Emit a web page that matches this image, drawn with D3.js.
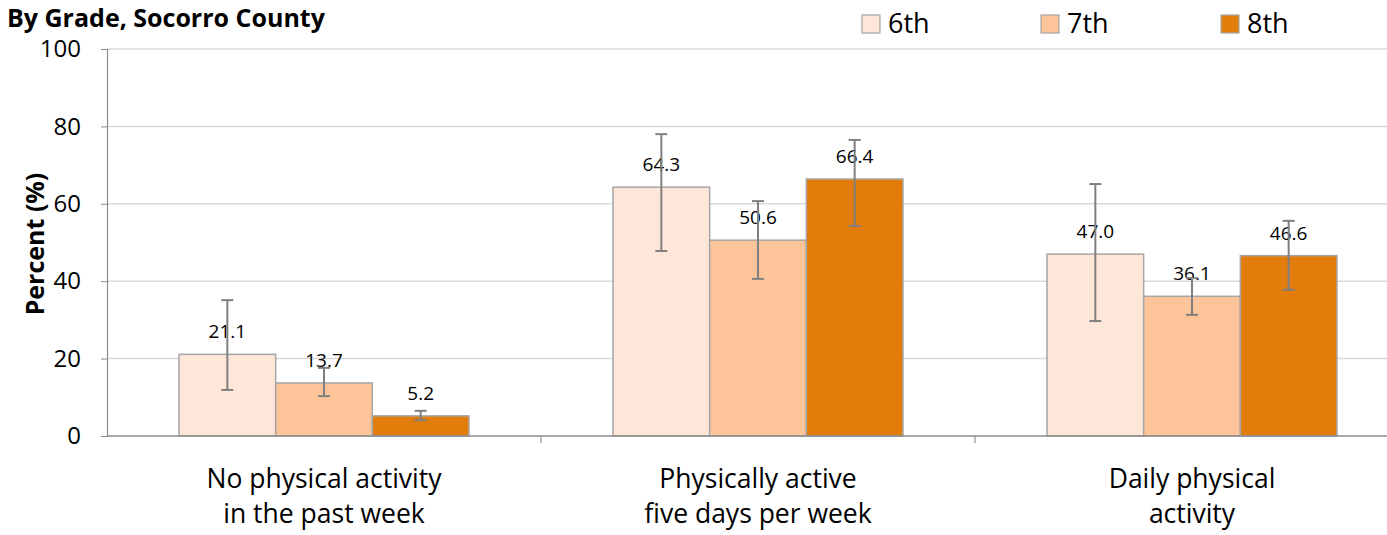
<!DOCTYPE html>
<html><head><meta charset="utf-8">
<script src="https://cdn.jsdelivr.net/npm/d3@7"></script>
<style>body{margin:0;background:#fff}svg{display:block;font-family:"Open Sans",sans-serif}</style>
</head><body><svg id="c" width="1387" height="535"></svg>
<script>
const categories = [["No physical activity","in the past week"],["Physically active","five days per week"],["Daily physical","activity"]];
const grades = ["6th","7th","8th"];
const colors = ["#fee6d9","#fdc49a","#e27c0b"];
const values6 = [21.1, 64.3, 47.0];
const values7 = [13.7, 50.6, 36.1];
const values8 = [5.2, 66.4, 46.6];
const lower6 = [11.9, 47.8, 29.7];
const upper6 = [35.1, 78.0, 65.1];
const lower7 = [10.3, 40.6, 31.3];
const upper7 = [17.6, 60.7, 40.8];
const lower8 = [4.1, 54.3, 37.8];
const upper8 = [6.5, 76.5, 55.6];
const yTicks = [0,20,40,60,80,100];

(function(){
const series = [
  {name:grades[0], vals:values6, lo:lower6, hi:upper6, color:colors[0]},
  {name:grades[1], vals:values7, lo:lower7, hi:upper7, color:colors[1]},
  {name:grades[2], vals:values8, lo:lower8, hi:upper8, color:colors[2]}
];

const svg = d3.select("#c");
const mLeft = 107, mRight = 1409, mTop = 49, mBottom = 436;
const y = d3.scaleLinear().domain([0,100]).range([mBottom, mTop]);
const x0 = d3.scaleBand().domain(d3.range(categories.length)).range([mLeft, mRight]).paddingInner(0).paddingOuter(0);
const x1 = d3.scaleBand().domain(d3.range(series.length)).range([0, x0.bandwidth()]).paddingOuter(0.745).paddingInner(0);

svg.append("g").selectAll("line").data(yTicks.filter(t=>t>0)).join("line")
  .attr("x1", mLeft).attr("x2", mRight).attr("y1", d=>y(d)).attr("y2", d=>y(d))
  .attr("stroke", "#d9d9d9").attr("stroke-width", 1.5);

const yAxis = svg.append("g").attr("transform", `translate(${mLeft},0)`)
  .call(d3.axisLeft(y).tickValues(yTicks).tickSize(6).tickPadding(20));
yAxis.select(".domain").attr("stroke", "#8c8c8c").attr("stroke-width", 1.2);
yAxis.selectAll(".tick line").attr("stroke", "#8c8c8c");
yAxis.selectAll("text").attr("font-size", 24).attr("fill", "#000").attr("font-family", "Open Sans");

const groups = svg.append("g").selectAll("g").data(series).join("g");
groups.selectAll("rect").data((s,si)=>s.vals.map((v,ci)=>({v,ci,si,color:s.color}))).join("rect")
  .attr("x", d=>x0(d.ci)+x1(d.si)).attr("width", x1.bandwidth())
  .attr("y", d=>y(d.v)).attr("height", d=>y(0)-y(d.v))
  .attr("fill", d=>d.color).attr("stroke", "#a6a6a6").attr("stroke-width", 1.5);

svg.append("line").attr("x1", mLeft).attr("x2", mRight).attr("y1", mBottom).attr("y2", mBottom)
  .attr("stroke", "#8c8c8c").attr("stroke-width", 1.5);
svg.append("g").selectAll("line").data(d3.range(1, categories.length)).join("line")
  .attr("x1", d=>x0(d)).attr("x2", d=>x0(d)).attr("y1", mBottom).attr("y2", mBottom+7)
  .attr("stroke", "#8c8c8c").attr("stroke-width", 1.2);

groups.selectAll("text.val").data((s,si)=>s.vals.map((v,ci)=>({v,ci,si}))).join("text").attr("class","val")
  .attr("x", d=>x0(d.ci)+x1(d.si)+x1.bandwidth()/2).attr("y", d=>y(d.v)-16)
  .attr("text-anchor","middle").attr("font-size", 19).attr("fill", "#000").text(d=>d.v.toFixed(1));

const eb = groups.selectAll("g.err").data((s,si)=>s.vals.map((v,ci)=>({lo:s.lo[ci],hi:s.hi[ci],ci,si}))).join("g").attr("class","err")
  .attr("stroke", "#808080").attr("stroke-width", 2);
const cx = d=>x0(d.ci)+x1(d.si)+x1.bandwidth()/2;
eb.append("line").attr("x1", cx).attr("x2", cx).attr("y1", d=>y(d.lo)).attr("y2", d=>y(d.hi));
eb.append("line").attr("x1", d=>cx(d)-6).attr("x2", d=>cx(d)+6).attr("y1", d=>y(d.lo)).attr("y2", d=>y(d.lo));
eb.append("line").attr("x1", d=>cx(d)-6).attr("x2", d=>cx(d)+6).attr("y1", d=>y(d.hi)).attr("y2", d=>y(d.hi));

svg.append("g").selectAll("text").data(categories).join("text")
  .attr("x", (d,i)=>x0(i)+x0.bandwidth()/2).attr("y", 488)
  .attr("text-anchor","middle").attr("font-size", 26.5).attr("fill","#000")
  .each(function(d){
    const t = d3.select(this);
    d.forEach((line,li)=>t.append("tspan").attr("x", t.attr("x")).attr("dy", li===0?0:35).text(line));
  });

svg.append("text").attr("x", 7).attr("y", 27).attr("font-size", 25).attr("font-weight", "bold").text("By Grade, Socorro County");

svg.append("text").attr("transform", "translate(44,244) rotate(-90)").attr("text-anchor","middle")
  .attr("font-size", 25).attr("font-weight","bold").text("Percent (%)");

const legX = [862, 1041, 1221];
const leg = svg.append("g").selectAll("g").data(series).join("g").attr("transform",(d,i)=>`translate(${legX[i]},15)`);
leg.append("rect").attr("width", 18).attr("height", 18).attr("fill", d=>d.color).attr("stroke","#a6a6a6").attr("stroke-width",1.2);
leg.append("text").attr("x", 26).attr("y", 18).attr("font-size", 27).text(d=>d.name);
})();
</script></body></html>
